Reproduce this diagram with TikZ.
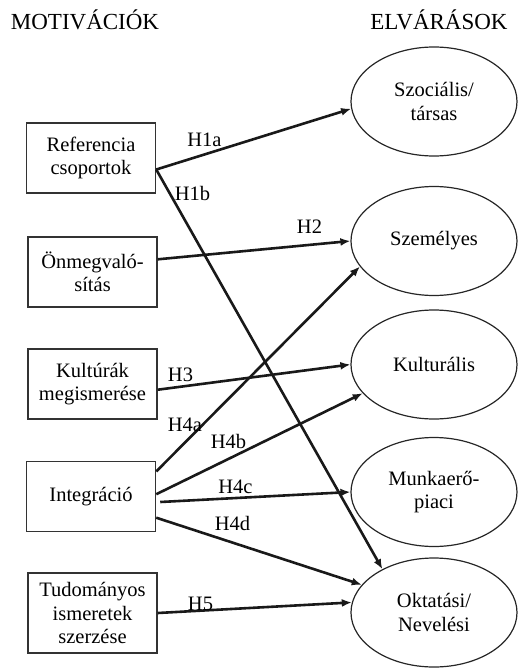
\documentclass[tikz,border=0pt]{standalone}
\usepackage{fontspec}
\setmainfont{Liberation Serif}
\usetikzlibrary{arrows.meta,shapes.geometric}
\tikzset{
  motbox/.style={draw=black!80, line width=1.5pt, rectangle, minimum width=129pt, minimum height=70pt, inner sep=0pt, align=center, font=\fontsize{20.5}{23.5}\selectfont},
  expell/.style={draw=black!85, line width=1.2pt, ellipse, minimum width=166pt, minimum height=109pt, inner sep=0pt, align=center, font=\fontsize{20.5}{23.5}\selectfont},
  arr/.style={line width=2.6pt, draw=black!90, -{Latex[length=10pt,width=8pt]}},
  hlab/.style={anchor=base, inner sep=0pt, font=\fontsize{20.5}{23.5}\selectfont},
  ttl/.style={anchor=base, inner sep=0pt, font=\fontsize{23}{26}\selectfont}
}
\begin{document}
\begin{tikzpicture}[x=1pt,y=-1pt]
\useasboundingbox (0,0) rectangle (518,670);
% titles
\node[ttl] (tmot) at (85,29) {MOTIVÁCIÓK};
\node[ttl] (telv) at (439,29) {ELVÁRÁSOK};
% motivation boxes
\node[motbox] (ref) at (91,158) {Referencia\\csoportok};
\node[motbox] (onm) at (92.5,272) {Önmegvaló-\\sítás};
\node[motbox] (kultM) at (92.5,384) {Kultúrák\\megismerése};
\node[motbox] (integ) at (91,496.5) {Integráció};
\node[motbox, minimum height=80pt] (tud) at (92.5,613) {Tudományos\\ismeretek\\szerzése};
% expectation ellipses
\node[expell] (szoc) at (434,101.5) {Szociális/\\társas};
\node[expell] (szem) at (434,241) {Személyes};
\node[expell] (kultE) at (434,364.5) {Kulturális};
\node[expell] (munka) at (434,492) {Munkaerő-\\piaci};
\node[expell] (okt) at (434,612.5) {Oktatási/\\Nevelési};
% connectors
\draw[arr] (ref.-10) -- (szoc.185);
\draw[arr] (ref.-10) -- (okt.140);
\draw[arr] (onm.11) -- (szem.west);
\draw[arr] (kultM.-5) -- (kultE.west);
\draw[arr] (integ.21) -- (szem.199);
\draw[arr] (integ.2) -- (kultE.202);
\draw[arr, shorten <=4pt] (integ.-5) -- (munka.west);
\draw[arr] (integ.-18) -- (okt.159);
\draw[arr] (tud.east) -- (okt.173);
% labels
\node[hlab] (l1a) at (204.5,146) {H1a};
\node[hlab] (l1b) at (192.5,200) {H1b};
\node[hlab] (l2) at (309.5,233) {H2};
\node[hlab] (l3) at (180.5,381) {H3};
\node[hlab] (l4a) at (185,431) {H4a};
\node[hlab] (l4b) at (228.5,448) {H4b};
\node[hlab] (l4c) at (235.5,493) {H4c};
\node[hlab] (l4d) at (232.5,530) {H4d};
\node[hlab] (l5) at (200.5,610) {H5};
\end{tikzpicture}
\end{document}
